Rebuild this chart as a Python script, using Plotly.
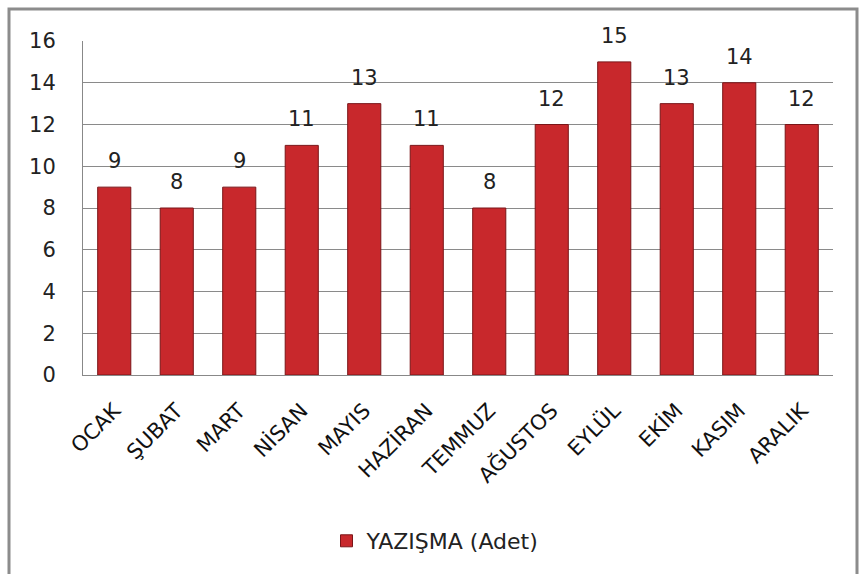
import plotly.graph_objects as go

months = ["OCAK", "ŞUBAT", "MART", "NİSAN", "MAYIS", "HAZİRAN", "TEMMUZ",
          "AĞUSTOS", "EYLÜL", "EKİM", "KASIM", "ARALIK"]
values = [9, 8, 9, 11, 13, 11, 8, 12, 15, 13, 14, 12]
series_name = "YAZIŞMA (Adet)"
y_ticks = [0, 2, 4, 6, 8, 10, 12, 14, 16]

FONT = "DejaVu Sans, Liberation Sans, sans-serif"

fig = go.Figure()
fig.add_trace(go.Bar(
    x=months, y=values, name=series_name,
    marker=dict(color="#C8282C", line=dict(color="#7A1518", width=1)),
))

for m, v in zip(months, values):
    fig.add_annotation(x=m, y=v, text=str(v), showarrow=False, yanchor="bottom",
                       yshift=12, font=dict(family=FONT, size=21, color="#222222"))

L, R, T, B = 83, 26, 41, 199
W, H = 859, 574
pw, ph = W - L - R, H - T - B

def px(x):
    return (x - L) / pw

def py(y):
    return (H - B - y) / ph

fig.update_layout(
    width=W, height=H,
    margin=dict(l=L, r=R, t=T, b=B, autoexpand=False),
    paper_bgcolor="white", plot_bgcolor="white",
    bargap=0.47,
    showlegend=True,
    legend=dict(orientation="h", x=0.47, xanchor="center", y=py(541), yanchor="middle",
                font=dict(family=FONT, size=22, color="#222222")),
    xaxis=dict(tickangle=-45, tickfont=dict(family=FONT, size=21, color="#111111"),
               showline=True, linecolor="#888888", linewidth=1, ticks="",
               ticklabelstandoff=14, ticklabelshift=0, showgrid=False, automargin=False),
    yaxis=dict(range=[0, 16], tickvals=y_ticks, showgrid=True, gridcolor="#8A8A8A", gridwidth=1,
               showline=True, linecolor="#888888", linewidth=1, zeroline=False, automargin=False,
               tickfont=dict(family=FONT, size=21, color="#222222"), ticks="",
               ticklabelstandoff=22),
    shapes=[dict(type="rect", xref="paper", yref="paper",
                 x0=px(9), x1=px(857), y0=py(576), y1=py(9),
                 line=dict(color="#8C8C8C", width=3), layer="below")],
)

fig.write_html("out.html", config={"displayModeBar": False},
               post_script="document.body.style.margin='0';")
